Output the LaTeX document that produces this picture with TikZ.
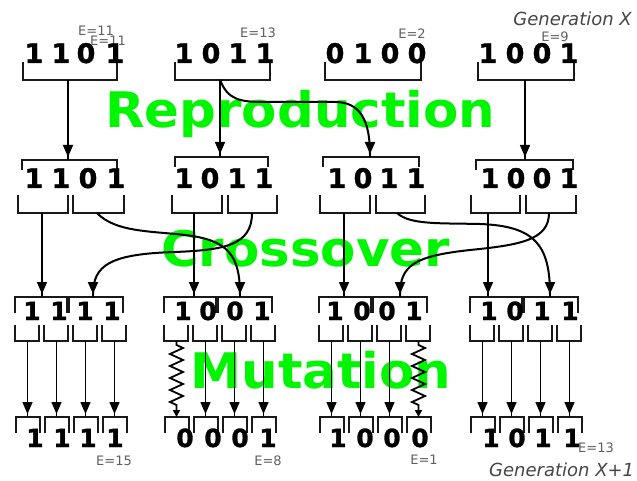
\documentclass[tikz,border=0pt]{standalone}
\usepackage{fontspec}
\setmainfont{DejaVu Sans}
\newfontfamily\digfont{DejaVu Sans Bold}[FakeBold=1.2]
\usetikzlibrary{arrows.meta,decorations.pathmorphing}
\definecolor{gen}{RGB}{0,245,0}
\definecolor{lbl}{RGB}{95,95,95}
\definecolor{genc}{RGB}{70,70,70}
\begin{document}
\begin{tikzpicture}[x=1pt,y=-1pt,
  br/.style={draw=black!90, line width=1.1pt},
  arr/.style={line width=1.4pt, -{Triangle[length=12pt,width=10pt,sep=0pt]Rectangle[length=3pt,width=1.4pt,sep=0pt]}},
  cv/.style={line width=2pt, -{Triangle[length=12pt,width=10pt,sep=0pt]Rectangle[length=3pt,width=1.8pt,sep=0pt]}},
  mut/.style={line width=1.8pt, decorate, decoration={zigzag,segment length=12pt,amplitude=6.5pt,pre length=4pt,post length=10pt}, -{Triangle[length=7pt,width=7pt]}},
  dig/.style={font=\fontsize{27}{27}\selectfont\digfont, inner sep=0pt, anchor=base},
  digs/.style={font=\fontsize{25}{25}\selectfont\digfont, inner sep=0pt, anchor=base},
  elbl/.style={font=\fontsize{13}{13}\selectfont, text=lbl, inner sep=0pt},
  gtitle/.style={font=\fontsize{49}{49}\selectfont\bfseries, text=gen, inner sep=0pt, anchor=base west, xscale=1.05},
  genl/.style={font=\fontsize{18}{18}\selectfont\itshape, text=genc, inner sep=0pt}
]
\useasboundingbox (0,0) rectangle (637,481);
\fill[white] (0,0) rectangle (637,481);

% green titles
\node[gtitle] (t1) at (105,128) {Reproduction};
\node[gtitle] (t2) at (161,266) {Crossover};
\node[gtitle] (t3) at (190,388) {Mutation};

% row 1 brackets
\foreach \a/\b in {23/117,175/270,325/421,478/574}
  \draw[br] (\a,62) |- (\b,80) -- (\b,62);
% row 2 caps
\foreach \a/\b/\y in {22/117/160,175/268/157,323/419/157,476/573/160}
  \draw[br] (\a,{\y+10}) |- (\b,\y) -- (\b,{\y+10});
% row 2 cups
\foreach \a/\b in {18/68,73/124,172/222,228/277,320/370,376/425,471/520,526/576}
  \draw[br] (\a,195) |- (\b,213) -- (\b,195);
% row 3 and 4
\foreach \x [count=\g] in {15,164,319,470}{
  \draw[br] (\x,313) |- ({\x+52},297) -- ({\x+52},313);
  \draw[br] ({\x+54},313) |- ({\x+108},297) -- ({\x+108},313);
  \foreach \i in {0,1,2,3}{
    \draw[br] ({\x+29*\i},325) |- ({\x+29*\i+24},341) -- ({\x+29*\i+24},325);
    \draw[br] ({\x+29*\i+1},433) |- ({\x+29*\i+25},417) -- ({\x+29*\i+25},433);
    \coordinate (u-\g-\i) at ({\x+29*\i+12.5},341);
    \coordinate (v-\g-\i) at ({\x+29*\i+12.5},417);
  }
}

% reproduction connectors
\coordinate (a1) at (68,80);
\coordinate (a2) at (220,80);
\coordinate (a4) at (525,80);
\coordinate (b1) at (68,160);
\coordinate (b2) at (220,157);
\coordinate (b3) at (370,157);
\coordinate (b4) at (525,160);
\draw[arr] (a1) -- (b1);
\draw[arr] (a2) -- (b2);
\draw[arr] (a4) -- (b4);
\draw[cv] (a2) .. controls (228,100) and (240,102) .. (265,102) -- (335,102) .. controls (360,102) and (370,120) .. (b3);

% crossover connectors
\coordinate (c1l) at (42,213);
\coordinate (c1r) at (97,213);
\coordinate (c2l) at (194,213);
\coordinate (c2r) at (252,213);
\coordinate (c3l) at (344,213);
\coordinate (c3r) at (397,213);
\coordinate (c4l) at (488,213);
\coordinate (c4r) at (549,213);
\coordinate (d1) at (42,297);
\coordinate (d2) at (93,297);
\coordinate (d3) at (194,297);
\coordinate (d4) at (240,297);
\coordinate (d5) at (344,297);
\coordinate (d6) at (400,297);
\coordinate (d7) at (488,297);
\coordinate (d8) at (550,297);
\draw[arr] (c1l) -- (d1);
\draw[arr] (c2l) -- (d3);
\draw[arr] (c3l) -- (d5);
\draw[arr] (c4l) -- (d7);
\draw[cv] (c1r) .. controls (115,232) and (150,231) .. (185,235) .. controls (228,240) and (240,255) .. (d4);
\draw[cv] (c2r) .. controls (252,245) and (225,250) .. (175,252) .. controls (110,254) and (93,265) .. (d2);
\draw[cv] (c3r) .. controls (410,225) and (440,223) .. (480,224) .. controls (535,226) and (550,245) .. (d8);
\draw[cv] (c4r) .. controls (549,240) and (520,245) .. (470,250) .. controls (415,256) and (400,265) .. (d6);

% mutation connectors
\foreach \g/\i in {1/0,1/1,1/2,1/3,2/1,2/2,2/3,3/0,3/1,3/2,4/0,4/1,4/2,4/3}
  \draw[arr] (u-\g-\i) -- (v-\g-\i);
\draw[mut] (u-2-0) -- (v-2-0);
\draw[mut] (u-3-3) -- (v-3-3);

% E labels
\node[elbl] (e1) at (96,31) {E=11};
\node[elbl] (e1b) at (108,41) {E=11};
\node[elbl] (e2) at (258,33) {E=13};
\node[elbl] (e3) at (412,34) {E=2};
\node[elbl] (e4) at (555,37) {E=9};
\node[elbl] (e5) at (114,461) {E=15};
\node[elbl] (e6) at (268,461) {E=8};
\node[elbl] (e7) at (424,460) {E=1};
\node[elbl] (e8) at (596,448) {E=13};

\node[genl, anchor=east] (gx) at (632,19) {Generation X};
\node[genl, anchor=west] (gx1) at (489,470) {Generation X+1};

% digits
\foreach \x/\d [count=\k] in {34/1,61/1,86/0,115/1,184/1,211/0,238/1,265/1,335/0,363/1,390/0,417/0,488/1,515/0,542/0,569/1}
  \node[dig] (ra-\k) at (\x,63) {\d};
\foreach \x/\d [count=\k] in {34/1,61/1,88/0,116/1,184/1,210/0,237/1,264/1,337/1,363/0,389/1,416/1,490/1,516/0,542/0,569/1}
  \node[dig] (rb-\k) at (\x,188) {\d};
\foreach \x/\d [count=\k] in {32/1,59/1,85/1,112/1,183/1,208/0,235/0,262/1,335/1,362/0,387/0,414/1,489/1,515/0,542/1,570/1}
  \node[digs] (rc-\k) at (\x,320) {\d};
\foreach \x/\d [count=\k] in {35/1,62/1,88/1,115/1,185/0,213/0,240/0,268/1,338/1,365/0,392/0,420/0,491/1,517/0,543/1,572/1}
  \node[digs] (rd-\k) at (\x,447) {\d};
\end{tikzpicture}
\end{document}
